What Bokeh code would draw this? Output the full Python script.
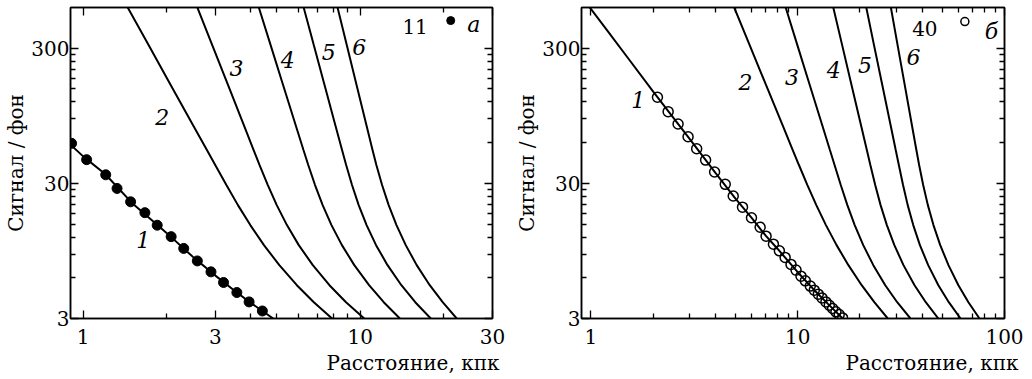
from bokeh.plotting import figure
from bokeh.models import (Range1d, FixedTicker, LogAxis, CustomJSTickFormatter, Title)
from bokeh.layouts import row
from bokeh.core.properties import value
from bokeh.embed import file_html
from bokeh.resources import INLINE

FONT = "DejaVu Serif"

# signal/background levels at which curves 2-6 were read
lvl_y = [607, 317.5, 160.4, 81.1, 52.9, 41.0, 29.14, 20.7, 14.73, 10.47, 7.446, 5.29, 3.96, 3.0]

# ---------------- data: panel a ----------------
a_dots_x = [0.908, 1.029, 1.206, 1.325, 1.483, 1.670, 1.850, 2.077, 2.306, 2.582, 2.892, 3.210, 3.586, 3.970, 4.432]
a_dots_y = [59.3, 44.9, 34.7, 27.5, 21.9, 18.2, 14.7, 12.1, 9.9, 8.0, 6.64, 5.54, 4.67, 3.98, 3.41]
a_fit_x = [0.9, 1.0, 1.2, 1.5, 2.0, 2.5, 3.0, 3.5, 4.0, 4.5, 4.85]
a_fit_y = [58.0, 47.5, 35.2, 21.5, 12.9, 8.5, 6.23, 4.85, 3.95, 3.34, 3.0]

a_c2_x = [1.443, 1.720, 2.069, 2.489, 2.796, 2.996, 3.287, 3.618, 4.010, 4.491, 5.103, 5.903, 6.797, 7.909]
a_c3_x = [2.577, 2.920, 3.331, 3.797, 4.122, 4.331, 4.638, 4.995, 5.436, 5.998, 6.740, 7.739, 8.882, 10.336]
a_c4_x = [4.296, 4.744, 5.265, 5.843, 6.237, 6.490, 6.866, 7.315, 7.871, 8.585, 9.515, 10.756, 12.151, 13.894]
a_c5_x = [6.237, 6.791, 7.430, 8.124, 8.594, 8.892, 9.336, 9.868, 10.537, 11.40, 12.54, 14.07, 15.79, 17.96]
a_c6_x = [8.266, 8.933, 9.695, 10.521, 11.07, 11.43, 11.985, 12.66, 13.508, 14.59, 15.98, 17.81, 19.83, 22.28]

a_lab_x = [1.648, 1.929, 3.572, 5.476, 7.69, 9.92]
a_lab_y = [11.4, 93.4, 213, 246, 283, 308]
a_lab_t = ["1", "2", "3", "4", "5", "6"]

# ---------------- data: panel б ----------------
b_dots_x = [2.097, 2.362, 2.638, 2.949, 3.245, 3.585, 3.962, 4.461, 4.876, 5.406, 5.975, 6.58,
            7.03, 7.63, 8.15, 8.69, 9.28, 9.81, 10.37, 10.88, 11.50, 12.02, 12.57, 13.10,
            13.69, 14.21, 14.75, 15.30, 15.87, 16.48]
b_dots_y = [130.1, 101.8, 82.5, 66.4, 54.1, 44.6, 36.4, 29.5, 24.2, 20.0, 16.7, 14.2,
            12.2, 10.65, 9.5, 8.49, 7.54, 6.84, 6.17, 5.70, 5.21, 4.86, 4.54, 4.26,
            3.98, 3.76, 3.56, 3.36, 3.21, 3.03]
b_fit_x = [0.95, 1.2, 1.5, 2.0, 3.0, 4.0, 5.0, 6.0, 7.0, 8.0, 10.0, 12.0, 14.0, 16.5]
b_fit_y = [649, 404, 257, 143, 64.0, 35.8, 23.1, 16.6, 12.3, 9.81, 6.60, 4.88, 3.85, 3.0]

b_c2_x = [4.914, 5.848, 7.024, 8.437, 9.460, 10.135, 11.136, 12.30, 13.69, 15.41, 17.58, 20.38, 23.46, 27.25]
b_c3_x = [8.723, 9.950, 11.43, 13.13, 14.31, 15.07, 16.15, 17.38, 18.86, 20.74, 23.20, 26.50, 30.27, 35.07]
b_c4_x = [14.83, 16.39, 18.20, 20.22, 21.59, 22.45, 23.70, 25.16, 26.98, 29.33, 32.46, 36.72, 41.61, 47.85]
b_c5_x = [21.42, 23.37, 25.64, 28.12, 29.78, 30.83, 32.31, 34.03, 36.20, 38.99, 42.75, 47.87, 53.77, 61.29]
b_c6_x = [28.18, 30.39, 32.92, 35.65, 37.48, 38.65, 40.43, 42.59, 45.33, 48.88, 53.57, 59.84, 66.90, 75.68]

b_lab_x = [1.692, 5.59, 9.39, 14.92, 21.18, 36.3]
b_lab_y = [124, 169.7, 185, 207, 226, 260]
b_lab_t = ["1", "2", "3", "4", "5", "6"]

# axis ticks
y_major = [3, 30, 300]
y_minor = [6, 9, 12, 15, 18, 21, 24, 27, 60, 90, 120, 150, 180, 210, 240, 270]
xa_major = [1, 3, 10, 30]
xa_minor = [2, 4, 5, 6, 7, 8, 9, 20]
xb_major = [1, 10, 100]
xb_minor = [2, 3, 4, 5, 6, 7, 8, 9, 20, 30, 40, 50, 60, 70, 80, 90]

LW = 2


def style_axis(ax, major, minor, labels=True):
    ax.ticker = FixedTicker(ticks=major, minor_ticks=minor)
    ax.major_tick_in = 8
    ax.major_tick_out = 0
    ax.minor_tick_in = 5
    ax.minor_tick_out = 0
    ax.axis_line_width = 1.5
    ax.major_tick_line_width = 1.3
    ax.minor_tick_line_width = 1.3
    ax.axis_line_color = "black"
    ax.major_tick_line_color = "black"
    ax.minor_tick_line_color = "black"
    if labels:
        ax.formatter = CustomJSTickFormatter(code="return String(tick);")
        ax.major_label_text_font = FONT
        ax.major_label_text_font_size = "20px"
        ax.major_label_text_color = "black"
    else:
        ax.formatter = CustomJSTickFormatter(code="return '';")
        ax.major_label_text_font_size = "0px"
        ax.major_label_standoff = 0


def make_panel(width, xr, x_major, x_minor, min_left, min_right, title_offset):
    p = figure(width=width, height=379, x_axis_type="log", y_axis_type="log",
               x_range=Range1d(*xr), y_range=Range1d(3, 600),
               output_backend="svg", toolbar_location=None,
               min_border_left=min_left, min_border_right=min_right,
               min_border_top=7, min_border_bottom=61)
    p.grid.visible = False
    p.outline_line_color = "black"
    p.outline_line_width = 1.5
    p.background_fill_color = "white"
    p.border_fill_color = "white"

    style_axis(p.xaxis[0], x_major, x_minor)
    style_axis(p.yaxis[0], y_major, y_minor)
    p.xaxis[0].major_label_standoff = 10
    p.yaxis[0].major_label_standoff = 1

    p.yaxis[0].axis_label = "Сигнал / фон"
    p.yaxis[0].axis_label_text_font = FONT
    p.yaxis[0].axis_label_text_font_size = "20px"
    p.yaxis[0].axis_label_text_font_style = "normal"
    p.yaxis[0].axis_label_text_color = "black"
    p.yaxis[0].axis_label_standoff = 0

    top = LogAxis()
    style_axis(top, x_major, x_minor, labels=False)
    p.add_layout(top, "above")
    right = LogAxis()
    style_axis(right, y_major, y_minor, labels=False)
    p.add_layout(right, "right")

    p.add_layout(Title(text="Расстояние, кпк", align="right", offset=title_offset,
                       text_font=FONT, text_font_size="20px", text_font_style="normal",
                       text_color="black", standoff=5), "below")
    return p


def curve(p, xs, ys):
    p.line(xs, ys, line_color="black", line_width=LW)


def labels(p, xs, ys, ts, style="italic", size="22px"):
    p.text(xs, ys, text=ts, text_font=value(FONT), text_font_style=style,
           text_font_size=size, text_align="center", text_baseline="middle", text_color="black")


# ---- panel a ----
pa = make_panel(512, (0.9, 30), xa_major, xa_minor, 70, 20, -7)
curve(pa, a_fit_x, a_fit_y)
pa.scatter(a_dots_x, a_dots_y, marker="circle", size=10, fill_color="black", line_color="black")
for xs in [a_c2_x, a_c3_x, a_c4_x, a_c5_x, a_c6_x]:
    curve(pa, xs, lvl_y)
labels(pa, a_lab_x, a_lab_y, a_lab_t)
labels(pa, [15.77], [434], ["11"], style="normal", size="20px")
pa.scatter([21.2], [480], marker="circle", size=8, fill_color="black", line_color="black")
labels(pa, [25.7], [446], ["а"])

# ---- panel б ----
pb = make_panel(520, (0.9, 100), xb_major, xb_minor, 68, 28, -14)
curve(pb, b_fit_x, b_fit_y)
pb.scatter(b_dots_x, b_dots_y, marker="circle", size=10, fill_color=None, line_color="black",
           line_width=1.5)
for xs in [b_c2_x, b_c3_x, b_c4_x, b_c5_x, b_c6_x]:
    curve(pb, xs, lvl_y)
labels(pb, b_lab_x, b_lab_y, b_lab_t)
labels(pb, [41.2], [422], ["40"], style="normal", size="20px")
pb.scatter([64.3], [472], marker="circle", size=8, fill_color=None, line_color="black", line_width=1.5)
labels(pb, [86.5], [398], ["б"])

layout = row(pa, pb)
open("out.html", "w").write(file_html(layout, INLINE))
